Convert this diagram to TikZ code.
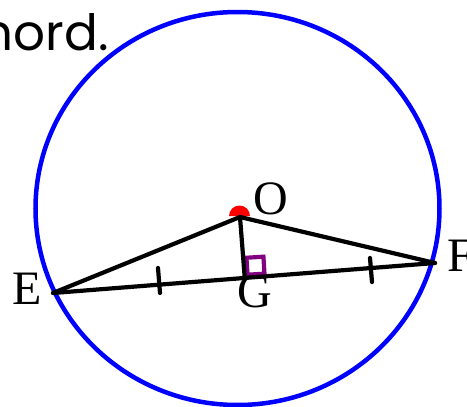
\documentclass[tikz,border=0pt]{standalone}
\usepackage{fontspec}
\setmainfont{Liberation Serif}
\newfontfamily\notefont{Poppins}
\usetikzlibrary{calc}
\definecolor{sqpurple}{RGB}{128,0,128}
\tikzset{
  seg/.style={line width=4.2pt, black, line cap=round},
  tickmark/.style={line width=4.2pt, black, line cap=round},
  lbl/.style={font=\fontsize{48}{48}\selectfont, inner sep=0pt, anchor=base},
  rightangle/.style={line width=4.2pt, sqpurple},
  circ/.style={line width=4.5pt, blue},
}
\begin{document}
\begin{tikzpicture}[x=1pt,y=-1pt]
\useasboundingbox (0,0) rectangle (467,407);
\clip (0,0) rectangle (467,407);
% note text (cut off)
\node[font=\notefont\fontsize{50}{50}\selectfont, inner sep=0pt, anchor=base east] (note) at (109,50) {hord.};
% circle
\draw[circ] (237.5,208.5) ellipse [x radius=202, y radius=196.5];
% points
\coordinate (O) at (240,217);
\coordinate (E) at (53,293);
\coordinate (F) at (435,263);
\coordinate (G) at ($(E)!(O)!(F)$);
% centre dot (upper half visible)
\fill[red] (229,216) arc[start angle=180, end angle=360, radius=10.5] -- cycle;
% right-angle mark
\coordinate (u1) at ($(G)!3pt!(F)$);
\coordinate (s0) at ($(u1)!3pt!90:(F)$);
\coordinate (s1) at ($(s0)!17pt!(F)$);
\coordinate (s3) at ($(s0)!17pt!90:(s1)$);
\coordinate (s2) at ($(s1)!17pt!-90:(s0)$);
\draw[rightangle] (s0) -- (s1) -- (s2) -- (s3) -- cycle;
% segments
\draw[seg] (E) -- (F);
\draw[seg] (E) -- (O) -- (F);
\draw[seg] (O) -- (G);
% ticks
\coordinate (t1a) at (158,268);
\coordinate (t1b) at (160,293);
\coordinate (t2a) at (370,258);
\coordinate (t2b) at (372,282);
\draw[tickmark] (t1a) -- (t1b);
\draw[tickmark] (t2a) -- (t2b);
% labels
\node[lbl] (lO) at (270.5,214) {O};
\node[lbl] (lE) at (27,304) {E};
\node[lbl] (lF) at (461,271) {F};
\node[lbl] (lG) at (255,307) {G};
\end{tikzpicture}
\end{document}
